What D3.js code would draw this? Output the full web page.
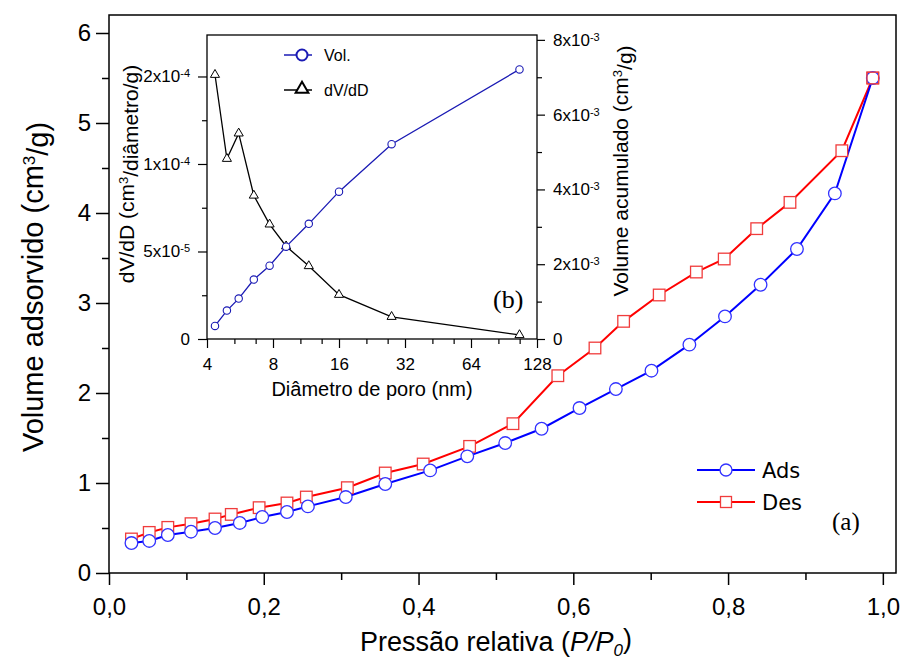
<!DOCTYPE html>
<html>
<head>
<meta charset="utf-8">
<script src="https://cdn.jsdelivr.net/npm/d3@7/dist/d3.min.js"></script>
<style>
  body { margin: 0; background: #fff; }
  text { fill: #000; }
</style>
</head>
<body>
<svg id="chart" width="901" height="662" font-family="Liberation Sans, Arial, sans-serif"></svg>
<script>
// isotherm (a)
const adsP = [0.029, 0.052, 0.076, 0.106, 0.137, 0.169, 0.198, 0.230, 0.257, 0.306, 0.357, 0.415,
  0.463, 0.512, 0.559, 0.608, 0.655, 0.701, 0.750, 0.796, 0.842, 0.889, 0.938, 0.987];
const adsV = [0.333, 0.356, 0.422, 0.459, 0.50, 0.556, 0.622, 0.678, 0.74, 0.844, 0.989, 1.14,
  1.296, 1.444, 1.603, 1.833, 2.044, 2.248, 2.537, 2.851, 3.203, 3.60, 4.218, 5.50];
const desP = [0.029, 0.052, 0.076, 0.106, 0.137, 0.158, 0.194, 0.230, 0.255, 0.308, 0.357, 0.406,
  0.466, 0.522, 0.580, 0.628, 0.665, 0.711, 0.759, 0.795, 0.837, 0.880, 0.947, 0.987];
const desV = [0.378, 0.451, 0.507, 0.548, 0.60, 0.651, 0.726, 0.778, 0.844, 0.948, 1.111, 1.211,
  1.407, 1.659, 2.192, 2.50, 2.796, 3.089, 3.344, 3.489, 3.826, 4.118, 4.692, 5.50];

// pore distribution (b)
const diam = [4.35, 4.93, 5.58, 6.54, 7.72, 9.18, 11.65, 16.0, 27.8, 106.5];
const volAcc = [0.35e-3, 0.76e-3, 1.08e-3, 1.59e-3, 1.96e-3, 2.47e-3, 3.08e-3, 3.94e-3, 5.21e-3, 7.21e-3];
const dVdD = [1.51e-4, 1.03e-4, 1.175e-4, 8.2e-5, 6.55e-5, 5.3e-5, 4.17e-5, 2.53e-5, 1.27e-5, 0.23e-5];

// ticks
const xTicks = [0, 0.2, 0.4, 0.6, 0.8, 1.0];
const xTickLabels = ["0,0", "0,2", "0,4", "0,6", "0,8", "1,0"];
const yTicks = [0, 1, 2, 3, 4, 5, 6];
const dTicks = [4, 8, 16, 32, 64, 128];
const leftTicks = [0, 5e-5, 1e-4, 1.5e-4];
const leftTickLabels = ["0", "5x10^-5", "1x10^-4", "2x10^-4"];
const rightTicks = [0, 2e-3, 4e-3, 6e-3, 8e-3];
const rightTickLabels = ["0", "2x10^-3", "4x10^-3", "6x10^-3", "8x10^-3"];

const svg = d3.select("#chart");
svg.append("rect").attr("width", 901).attr("height", 662).attr("fill", "#fff");

// write "a^b" as text with a superscript tspan
function supText(sel, s, supSize) {
  const parts = s.split("^");
  sel.text(parts[0]);
  if (parts.length > 1) {
    sel.append("tspan").attr("dy", "-0.45em").attr("font-size", supSize).text(parts[1]);
  }
}

/* ---------- main chart ---------- */
const x = d3.scaleLinear().domain([0, 1.017]).range([109, 896]);
const y = d3.scaleLinear().domain([0, 6.2]).range([573, 15]);

const xMinor = d3.range(0.1, 1.0, 0.2);
const yMinor = d3.range(0.5, 6, 1);

const gx = svg.append("g").attr("transform", `translate(0,${y(0)})`)
  .call(d3.axisBottom(x).tickValues(xTicks).tickSize(12).tickPadding(13)
    .tickFormat((d, i) => xTickLabels[i]));
svg.append("g").attr("transform", `translate(0,${y(0)})`)
  .call(d3.axisBottom(x).tickValues(xMinor).tickSize(7).tickFormat(""));
const gy = svg.append("g").attr("transform", `translate(${x(0)},0)`)
  .call(d3.axisLeft(y).tickValues(yTicks).tickSize(13).tickPadding(5).tickFormat(d3.format("d")));
svg.append("g").attr("transform", `translate(${x(0)},0)`)
  .call(d3.axisLeft(y).tickValues(yMinor).tickSize(7).tickFormat(""));
svg.selectAll(".domain").remove();
svg.selectAll(".tick line").attr("stroke", "#000").attr("stroke-width", 1.5);
gx.selectAll("text").attr("font-size", 24).attr("font-family", null);
gy.selectAll("text").attr("font-size", 24).attr("font-family", null);

svg.append("rect")
  .attr("x", x.range()[0]).attr("y", y.range()[1])
  .attr("width", x.range()[1] - x.range()[0]).attr("height", y.range()[0] - y.range()[1])
  .attr("fill", "none").attr("stroke", "#000").attr("stroke-width", 1.5);

// axis titles
const xt = svg.append("text").attr("x", 496).attr("y", 651).attr("text-anchor", "middle").attr("font-size", 27);
xt.append("tspan").text("Pressão relativa (");
xt.append("tspan").attr("font-style", "italic").text("P/P");
xt.append("tspan").attr("font-style", "italic").attr("font-size", 17).attr("dy", "0.3em").text("0");
xt.append("tspan").attr("dy", "-0.3em").text(")");

const yt = svg.append("text").attr("transform", "translate(43,287) rotate(-90)")
  .attr("text-anchor", "middle").attr("font-size", 29);
yt.append("tspan").text("Volume adsorvido (cm");
yt.append("tspan").attr("dy", "-0.45em").attr("font-size", 17).text("3");
yt.append("tspan").attr("dy", "0.45em").text("/g)");

// series
const adsColor = "#0000ff", desColor = "#ff0000";
const lineMain = d3.line().x(d => x(d[0])).y(d => y(d[1]));
const adsData = adsP.map((p, i) => [p, adsV[i]]);
const desData = desP.map((p, i) => [p, desV[i]]);

svg.append("path").datum(desData).attr("d", lineMain)
  .attr("fill", "none").attr("stroke", desColor).attr("stroke-width", 2);
svg.append("path").datum(adsData).attr("d", lineMain)
  .attr("fill", "none").attr("stroke", adsColor).attr("stroke-width", 2);

svg.append("g").selectAll("rect").data(desData).join("rect")
  .attr("x", d => x(d[0]) - 5.8).attr("y", d => y(d[1]) - 5.8)
  .attr("width", 11.6).attr("height", 11.6)
  .attr("fill", "#fff").attr("stroke", "#f03c3c").attr("stroke-width", 1.3);
svg.append("g").selectAll("circle").data(adsData).join("circle")
  .attr("cx", d => x(d[0])).attr("cy", d => y(d[1])).attr("r", 6.3)
  .attr("fill", "#fff").attr("stroke", "#3232ff").attr("stroke-width", 1.3);
// last points coincide: Des square outline on top
svg.append("rect")
  .attr("x", x(desP[desP.length - 1]) - 5.8).attr("y", y(desV[desV.length - 1]) - 5.8)
  .attr("width", 11.6).attr("height", 11.6)
  .attr("fill", "none").attr("stroke", "#f03c3c").attr("stroke-width", 1.3);

// legend (a)
const leg = svg.append("g");
[[470, adsColor, "Ads", "circle"], [502, desColor, "Des", "square"]].forEach(([ly, c, label, shape]) => {
  leg.append("line").attr("x1", 697).attr("x2", 755).attr("y1", ly).attr("y2", ly)
    .attr("stroke", c).attr("stroke-width", 2);
  if (shape === "circle") {
    leg.append("circle").attr("cx", 726).attr("cy", ly).attr("r", 6)
      .attr("fill", "#fff").attr("stroke", "#3232ff").attr("stroke-width", 1.3);
  } else {
    leg.append("rect").attr("x", 720.5).attr("y", ly - 5.5).attr("width", 11).attr("height", 11)
      .attr("fill", "#fff").attr("stroke", "#f03c3c").attr("stroke-width", 1.3);
  }
  leg.append("text").attr("x", 762).attr("y", ly + 8).attr("font-size", 21)
    .style("font-family", "'DejaVu Sans'").text(label);
});
svg.append("text").attr("x", 832).attr("y", 530).attr("font-size", 25)
  .style("font-family", "'Liberation Serif', serif").text("(a)");

/* ---------- inset (b) ---------- */
const ix = d3.scaleLog().base(2).domain([4, 128]).range([207, 537]);
const iyL = d3.scaleLinear().domain([0, 1.737e-4]).range([339, 35]);
const iyR = d3.scaleLinear().domain([0, 8.13e-3]).range([339, 35]);

const inset = svg.append("g");
inset.append("rect").attr("x", 207).attr("y", 35).attr("width", 330).attr("height", 304)
  .attr("fill", "#fff");

const dMinor = [];
dTicks.slice(0, -1).forEach(b => { dMinor.push(b * 4 / 3, b * 5 / 3); });
const leftMinor = [2.5e-5, 7.5e-5, 1.25e-4];
const rightMinor = [1e-3, 3e-3, 5e-3, 7e-3];

inset.append("g").attr("transform", `translate(0,${iyL(0)})`)
  .call(d3.axisBottom(ix).tickValues(dTicks).tickSize(9).tickPadding(10).tickFormat(d3.format("d")));
inset.append("g").attr("transform", `translate(0,${iyL(0)})`)
  .call(d3.axisBottom(ix).tickValues(dMinor).tickSize(5).tickFormat(""));
const il = inset.append("g").attr("transform", `translate(${ix(4)},0)`)
  .call(d3.axisLeft(iyL).tickValues(leftTicks).tickSize(9).tickPadding(8).tickFormat(""));
inset.append("g").attr("transform", `translate(${ix(4)},0)`)
  .call(d3.axisLeft(iyL).tickValues(leftMinor).tickSize(5).tickFormat(""));
const ir = inset.append("g").attr("transform", `translate(${ix(128)},0)`)
  .call(d3.axisRight(iyR).tickValues(rightTicks).tickSize(8).tickPadding(8).tickFormat(""));
inset.append("g").attr("transform", `translate(${ix(128)},0)`)
  .call(d3.axisRight(iyR).tickValues(rightMinor).tickSize(5).tickFormat(""));
inset.selectAll(".domain").remove();
inset.selectAll(".tick line").attr("stroke", "#000").attr("stroke-width", 1.2);
inset.selectAll(".tick text").attr("font-size", 17).attr("font-family", null);
il.selectAll(".tick text").each(function (d, i) { supText(d3.select(this), leftTickLabels[i], 11); });
ir.selectAll(".tick text").each(function (d, i) { supText(d3.select(this), rightTickLabels[i], 11); });

inset.append("rect").attr("x", 207).attr("y", 35).attr("width", 330).attr("height", 304)
  .attr("fill", "none").attr("stroke", "#000").attr("stroke-width", 1.3);

// inset titles
inset.append("text").attr("x", 372).attr("y", 396).attr("text-anchor", "middle")
  .attr("font-size", 20).text("Diâmetro de poro (nm)");
const lt = inset.append("text").attr("transform", "translate(134,174) rotate(-90)")
  .attr("text-anchor", "middle").attr("font-size", 21);
lt.append("tspan").text("dV/dD (cm");
lt.append("tspan").attr("dy", "-0.45em").attr("font-size", 13).text("3");
lt.append("tspan").attr("dy", "0.45em").text("/diâmetro/g)");
const rt = inset.append("text").attr("transform", "translate(628,171) rotate(-90)")
  .attr("text-anchor", "middle").attr("font-size", 21);
rt.append("tspan").text("Volume acumulado (cm");
rt.append("tspan").attr("dy", "-0.45em").attr("font-size", 13).text("3");
rt.append("tspan").attr("dy", "0.45em").text("/g)");

// inset series
const volColor = "#1a1ab4";
const volData = diam.map((d, i) => [d, volAcc[i]]);
const dvData = diam.map((d, i) => [d, dVdD[i]]);
inset.append("path").datum(dvData)
  .attr("d", d3.line().x(d => ix(d[0])).y(d => iyL(d[1])))
  .attr("fill", "none").attr("stroke", "#000").attr("stroke-width", 1.3);
inset.append("path").datum(volData)
  .attr("d", d3.line().x(d => ix(d[0])).y(d => iyR(d[1])))
  .attr("fill", "none").attr("stroke", volColor).attr("stroke-width", 1.3);

const tri = d3.symbol().type(d3.symbolTriangle).size(36);
inset.append("g").selectAll("path").data(dvData).join("path")
  .attr("transform", d => `translate(${ix(d[0])},${iyL(d[1])})`)
  .attr("d", tri).attr("fill", "#fff").attr("stroke", "#000").attr("stroke-width", 1);
inset.append("g").selectAll("circle").data(volData).join("circle")
  .attr("cx", d => ix(d[0])).attr("cy", d => iyR(d[1])).attr("r", 3.7)
  .attr("fill", "#fff").attr("stroke", volColor).attr("stroke-width", 1.1);

// inset legend
inset.append("line").attr("x1", 284).attr("x2", 312).attr("y1", 55).attr("y2", 55)
  .attr("stroke", volColor).attr("stroke-width", 1.5);
inset.append("circle").attr("cx", 302).attr("cy", 55).attr("r", 5.5)
  .attr("fill", "#fff").attr("stroke", volColor).attr("stroke-width", 2);
inset.append("text").attr("x", 324).attr("y", 61).attr("font-size", 16).text("Vol.");
inset.append("line").attr("x1", 284).attr("x2", 312).attr("y1", 90).attr("y2", 90)
  .attr("stroke", "#000").attr("stroke-width", 1.5);
inset.append("path").attr("transform", "translate(302,89)")
  .attr("d", d3.symbol().type(d3.symbolTriangle).size(70))
  .attr("fill", "#fff").attr("stroke", "#000").attr("stroke-width", 2);
inset.append("text").attr("x", 324).attr("y", 96).attr("font-size", 16).text("dV/dD");

inset.append("text").attr("x", 493).attr("y", 308).attr("font-size", 26)
  .style("font-family", "'Liberation Serif', serif").text("(b)");
</script>
</body>
</html>
